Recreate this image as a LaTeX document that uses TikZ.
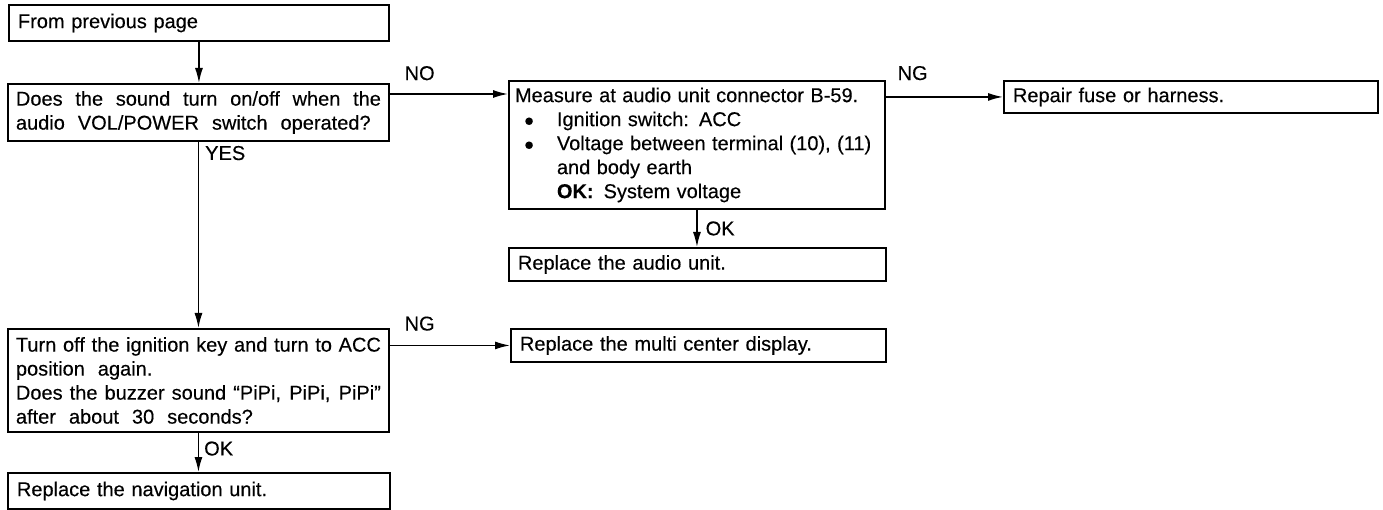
\documentclass[tikz,border=0pt]{standalone}
\usepackage{fontspec}
\setmainfont{Liberation Sans}[FakeBold=0.3]
\usetikzlibrary{arrows.meta, positioning}

\newcommand{\chartfont}{\fontsize{20}{24}\selectfont
  \spaceskip=0.65em plus 0.6em minus 0.4em\relax}
\newcommand{\bigdot}{\makebox[33pt][l]{\fontsize{17}{24}\selectfont ●}}

% styles for the chart
\tikzset{
  txt/.style={font=\chartfont},
  box/.style={draw, txt, line width=1.9pt, anchor=north west, inner xsep=9pt, inner ysep=2pt, align=left},
  lbl/.style={txt, inner sep=0pt},
  arr/.style={-{Latex[length=15pt,width=8pt]}, line width=1.5pt},
}

\begin{document}
\begin{tikzpicture}[x=1pt, y=-1pt]
    \useasboundingbox (0,0) rectangle (1383,510);

    % --- left column ---
    \node[box, text width=362pt, minimum height=36pt] (prev) at (8,4) {From previous page};
    \node[box, inner xsep=8pt, text width=365pt, minimum height=57pt, align=justify] (sound) at (7,83)
        {\parfillskip=0pt Does the sound turn on/off when the\linebreak audio VOL/POWER switch operated?};
    \node[box, inner xsep=8pt, text width=365pt, minimum height=103pt, align=justify] (ign) at (7,328)
        {Turn off the ignition key and turn to ACC\linebreak position again.\\
         Does the buzzer sound “PiPi, PiPi, PiPi”\linebreak after about 30 seconds?};
    \node[box, text width=364pt, minimum height=36pt] (navi) at (7,472) {Replace the navigation unit.};

    % --- middle column ---
    \node[box, inner xsep=6pt, text width=364pt, minimum height=128pt] (measure) at (508,80)
        {\spaceskip=0.32em plus 0.3em minus 0.1em
         Measure at audio unit connector B-59.\\
         \hspace*{9pt}\bigdot Ignition switch: ACC\\
         \hspace*{9pt}\bigdot Voltage between terminal (10), (11)\\
         \hspace*{42pt}and body earth\\
         \hspace*{42pt}\textbf{OK:}\hspace{10pt}System voltage};
    \node[box, text width=359pt, minimum height=33pt] (audio) at (508,247) {Replace the audio unit.};
    \node[box, text width=357pt, minimum height=33pt] (multi) at (510,328) {Replace the multi center display.};

    % --- right column ---
    \node[box, text width=356pt, minimum height=32pt] (repair) at (1003,80) {Repair fuse or harness.};

    % --- connectors ---
    \draw[arr] (prev.south) -- (prev.south |- sound.north);
    \draw[arr] (sound.south) -- node[lbl, pos=0.06, anchor=west, xshift=6pt] {YES} (sound.south |- ign.north);
    \draw[arr] ([yshift=-11pt]sound.north east) -- node[lbl, pos=0, anchor=south west, xshift=14pt, yshift=13pt] {NO}
        ([yshift=-11pt]sound.north east -| measure.west);
    \draw[arr] (measure.east |- repair.west) -- node[lbl, pos=0, anchor=south west, xshift=11pt, yshift=16pt] {NG} (repair.west);
    \draw[arr] (measure.south) -- node[lbl, pos=0.5, anchor=west, xshift=8pt] {OK} (measure.south |- audio.north);
    \draw[arr] (ign.east |- multi.west) -- node[lbl, pos=0, anchor=south west, xshift=14pt, yshift=14pt] {NG} (multi.west);
    \draw[arr] (ign.south) -- node[lbl, pos=0.4, anchor=west, xshift=5pt] {OK} (ign.south |- navi.north);
\end{tikzpicture}
\end{document}
